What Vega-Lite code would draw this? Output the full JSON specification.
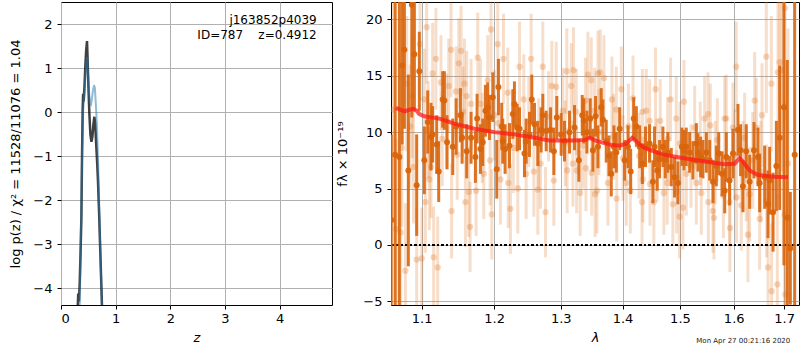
{
  "$schema": "https://vega.github.io/schema/vega-lite/v6.json",
  "padding": {"left": 9, "top": 1, "right": 0, "bottom": 0},
  "spacing": 3,
  "title": {"text": "Mon Apr 27 00:21:16 2020", "orient": "bottom", "anchor": "end", "fontSize": 7, "fontWeight": "normal", "font": "DejaVu Sans", "color": "#222222", "offset": -8, "dx": -10},
  "config": {
    "font": "DejaVu Sans",
    "view": {"stroke": "black", "strokeWidth": 1},
    "axis": {"domain": false, "grid": true, "gridColor": "#b0b0b0", "gridWidth": 1, "gridOpacity": 1, "tickColor": "black", "tickSize": 4, "tickWidth": 1, "labelFont": "DejaVu Sans", "labelFontSize": 13, "labelColor": "black", "labelOverlap": false, "titleFont": "DejaVu Sans", "titleFontSize": 13, "titleFontWeight": "normal", "titleColor": "black"},
    "axisX": {"labelPadding": 3, "titlePadding": 6},
    "axisY": {"labelPadding": 5}
  },
  "datasets": {
    "pz_dark": [
      {"z":0.29,"lp":-5.0},{"z":0.305,"lp":-4.5},{"z":0.315,"lp":-4.12},{"z":0.328,"lp":-4.3},{"z":0.342,"lp":-3.9},{"z":0.358,"lp":-3.2},{"z":0.373,"lp":-2.4},{"z":0.385,"lp":-1.0},{"z":0.397,"lp":0.1},{"z":0.405,"lp":0.42},{"z":0.415,"lp":0.25},{"z":0.43,"lp":0.6},{"z":0.445,"lp":1.05},{"z":0.46,"lp":1.4},{"z":0.476,"lp":1.62},{"z":0.485,"lp":1.3},{"z":0.494,"lp":0.9},{"z":0.507,"lp":0.4},{"z":0.52,"lp":-0.05},{"z":0.538,"lp":-0.5},{"z":0.557,"lp":-0.67},{"z":0.575,"lp":-0.55},{"z":0.595,"lp":-0.25},{"z":0.611,"lp":-0.1},{"z":0.625,"lp":-0.25},{"z":0.645,"lp":-0.75},{"z":0.662,"lp":-1.15},{"z":0.678,"lp":-1.6},{"z":0.70,"lp":-2.4},{"z":0.72,"lp":-3.2},{"z":0.74,"lp":-4.0},{"z":0.755,"lp":-4.6},{"z":0.77,"lp":-5.3}
    ],
    "pz_blue": [
      {"z":0.335,"lp":-5.0},{"z":0.345,"lp":-4.2},{"z":0.36,"lp":-3.0},{"z":0.375,"lp":-1.9},{"z":0.39,"lp":-0.7},{"z":0.405,"lp":0.05},{"z":0.42,"lp":0.3},{"z":0.434,"lp":0.55},{"z":0.45,"lp":0.9},{"z":0.465,"lp":1.15},{"z":0.478,"lp":1.26},{"z":0.49,"lp":1.0},{"z":0.505,"lp":0.6},{"z":0.52,"lp":0.35},{"z":0.535,"lp":0.2},{"z":0.55,"lp":0.18},{"z":0.565,"lp":0.3},{"z":0.585,"lp":0.5},{"z":0.605,"lp":0.62},{"z":0.62,"lp":0.55},{"z":0.635,"lp":0.25},{"z":0.65,"lp":-0.1},{"z":0.665,"lp":-0.6},{"z":0.68,"lp":-1.15},{"z":0.70,"lp":-2.2},{"z":0.72,"lp":-3.15},{"z":0.74,"lp":-4.0},{"z":0.755,"lp":-4.6},{"z":0.77,"lp":-5.3}
    ],
    "labels": [
      {"z":4.68,"lp":2.098,"t":"j163852p4039"},
      {"z":4.68,"lp":1.75,"t":"ID=787\u00a0\u00a0\u00a0\u00a0z=0.4912"}
    ],
    "spec_bin": [
      {"lam":1.0605,"f":2.2,"e":7.6},{"lam":1.0655,"f":8,"e":14},{"lam":1.0709,"f":7.8,"e":14},{"lam":1.0745,"f":15.9,"e":7},{"lam":1.0774,"f":17.3,"e":7},{"lam":1.0825,"f":6.6,"e":8.5},{"lam":1.087,"f":21.3,"e":10},{"lam":1.0904,"f":16.9,"e":5},{"lam":1.0934,"f":5.3,"e":4.5},{"lam":1.0969,"f":15.4,"e":3.5},{"lam":1.1035,"f":7.5,"e":3},{"lam":1.108,"f":10.9,"e":2.8},{"lam":1.1124,"f":9.6,"e":3},{"lam":1.1146,"f":9.8,"e":2.5},{"lam":1.12,"f":8.9,"e":2.6},{"lam":1.1227,"f":6.5,"e":2.7},{"lam":1.1281,"f":12.9,"e":2.5},{"lam":1.1304,"f":12.8,"e":2.6},{"lam":1.134,"f":9.1,"e":2.4},{"lam":1.1418,"f":8.7,"e":2.5},{"lam":1.1465,"f":10.5,"e":2.5},{"lam":1.1524,"f":11.5,"e":2.4},{"lam":1.1547,"f":9.5,"e":2.3},{"lam":1.1611,"f":8.3,"e":2.4},{"lam":1.1672,"f":9.5,"e":2.3},
      {"lam":1.1733,"f":7.8,"e":2.3},{"lam":1.1757,"f":11.2,"e":2.2},{"lam":1.1804,"f":8.5,"e":2.2},{"lam":1.1837,"f":9.1,"e":2.1},{"lam":1.1875,"f":11.9,"e":2.3},{"lam":1.1908,"f":12.2,"e":2.2},{"lam":1.1932,"f":11.3,"e":2.0},{"lam":1.198,"f":13.1,"e":2.2},{"lam":1.2038,"f":6.7,"e":2.6},{"lam":1.2062,"f":14.0,"e":2.5},{"lam":1.211,"f":10.5,"e":2.1},{"lam":1.2125,"f":9.2,"e":2.0},{"lam":1.2159,"f":8.5,"e":2.2},{"lam":1.2223,"f":8.8,"e":2.0},{"lam":1.2272,"f":11.6,"e":2.2},{"lam":1.2296,"f":12.5,"e":2.0},{"lam":1.2336,"f":10.4,"e":2.1},{"lam":1.2371,"f":10.3,"e":1.9},{"lam":1.2445,"f":8.1,"e":2.1},{"lam":1.247,"f":9.2,"e":2.0},{"lam":1.252,"f":9.8,"e":2.0},{"lam":1.2555,"f":12.9,"e":2.2},{"lam":1.2596,"f":10.7,"e":1.9},{"lam":1.2646,"f":9.0,"e":2.0},{"lam":1.2697,"f":10.2,"e":2.0},{"lam":1.2722,"f":11.5,"e":1.9},{"lam":1.2774,"f":10.1,"e":1.8},{"lam":1.2841,"f":10.2,"e":2.0},{"lam":1.2892,"f":8.3,"e":2.1},{"lam":1.2938,"f":11.3,"e":1.9},
      {"lam":1.3006,"f":9.8,"e":1.9},{"lam":1.3058,"f":9.2,"e":1.8},{"lam":1.3137,"f":10.0,"e":1.9},{"lam":1.3216,"f":10.4,"e":2.0},{"lam":1.3285,"f":7.5,"e":1.9},{"lam":1.3339,"f":11.5,"e":1.8},{"lam":1.3365,"f":11.0,"e":2.0},{"lam":1.3414,"f":10.0,"e":1.9},{"lam":1.3468,"f":11.2,"e":1.8},{"lam":1.3511,"f":8.4,"e":1.9},{"lam":1.3554,"f":11.4,"e":1.8},{"lam":1.3593,"f":8.7,"e":1.9},{"lam":1.3647,"f":12.2,"e":1.7},{"lam":1.3675,"f":11.1,"e":1.8},{"lam":1.3729,"f":9.2,"e":1.9},{"lam":1.3774,"f":7.9,"e":1.8},{"lam":1.3812,"f":6.3,"e":2.0},{"lam":1.3857,"f":8.7,"e":1.9},{"lam":1.3896,"f":8.2,"e":1.8},{"lam":1.3952,"f":10.3,"e":1.9},{"lam":1.4036,"f":7.5,"e":1.8},{"lam":1.4093,"f":8.7,"e":1.9},{"lam":1.4138,"f":6.5,"e":2.0},{"lam":1.4189,"f":11.2,"e":1.9},{"lam":1.4235,"f":10.5,"e":1.8},{"lam":1.4292,"f":8.7,"e":1.9},{"lam":1.4338,"f":7.2,"e":1.8},
      {"lam":1.4392,"f":8.7,"e":1.8},{"lam":1.4462,"f":9.0,"e":1.7},{"lam":1.452,"f":5.6,"e":1.9},{"lam":1.4549,"f":8.7,"e":1.8},{"lam":1.4596,"f":6.6,"e":1.8},{"lam":1.4637,"f":7.6,"e":1.7},{"lam":1.4696,"f":8.7,"e":1.8},{"lam":1.4737,"f":7.6,"e":1.7},{"lam":1.4784,"f":8.2,"e":1.8},{"lam":1.4844,"f":6.9,"e":1.7},{"lam":1.4903,"f":6.0,"e":1.8},{"lam":1.4963,"f":5.5,"e":1.9},{"lam":1.5035,"f":8.7,"e":1.7},{"lam":1.5072,"f":8.4,"e":1.8},{"lam":1.5114,"f":8.7,"e":1.7},{"lam":1.5175,"f":8.2,"e":1.8},{"lam":1.5236,"f":7.5,"e":1.7},{"lam":1.5298,"f":9.0,"e":1.8},{"lam":1.5328,"f":8.2,"e":1.7},{"lam":1.5377,"f":7.8,"e":1.8},{"lam":1.542,"f":7.6,"e":1.7},{"lam":1.5483,"f":8.2,"e":1.8},{"lam":1.5545,"f":7.5,"e":1.8},{"lam":1.5607,"f":5.6,"e":1.9},{"lam":1.567,"f":7.0,"e":1.8},{"lam":1.5714,"f":8.1,"e":1.9},{"lam":1.5777,"f":6.3,"e":2.0},{"lam":1.5828,"f":4.8,"e":2.0},
      {"lam":1.5858,"f":7.8,"e":2.2},{"lam":1.5921,"f":5.7,"e":2.2},{"lam":1.5985,"f":8.1,"e":2.2},{"lam":1.6082,"f":10.2,"e":2.3},{"lam":1.6133,"f":8.4,"e":2.3},{"lam":1.6178,"f":5.2,"e":2.3},{"lam":1.6243,"f":8.3,"e":2.4},{"lam":1.6309,"f":5.6,"e":2.4},{"lam":1.6394,"f":8.4,"e":2.5},{"lam":1.6473,"f":7.8,"e":2.6},{"lam":1.6506,"f":5.5,"e":2.6},{"lam":1.6606,"f":6.0,"e":2.8},{"lam":1.6673,"f":3.6,"e":3.0},{"lam":1.6706,"f":5.7,"e":3.0},{"lam":1.6774,"f":2.9,"e":3.5},{"lam":1.6841,"f":7.0,"e":4.0},{"lam":1.6908,"f":9.5,"e":6.4},{"lam":1.6995,"f":12.2,"e":14},{"lam":1.7064,"f":2.4,"e":14},{"lam":1.7126,"f":-0.3,"e":5},{"lam":1.7215,"f":8,"e":16}
    ],
    "spec_raw": [
      {"lam":1.063,"f":12.0,"e":10},{"lam":1.0665,"f":1.4,"e":8},{"lam":1.0726,"f":1.1,"e":7},{"lam":1.0741,"f":8.6,"e":7},{"lam":1.0787,"f":-2.3,"e":6},{"lam":1.0804,"f":14.3,"e":6},{"lam":1.0847,"f":10.5,"e":5.5},{"lam":1.0875,"f":13.2,"e":5.5},{"lam":1.0891,"f":6.9,"e":5},{"lam":1.0934,"f":-1.3,"e":4.5},{"lam":1.0978,"f":17.8,"e":5},{"lam":1.1001,"f":-1.2,"e":4.5},{"lam":1.1035,"f":12.9,"e":4.5},{"lam":1.1049,"f":3.8,"e":4.5},{"lam":1.1066,"f":19.3,"e":5},{"lam":1.1085,"f":10.2,"e":4.3},{"lam":1.1102,"f":5.8,"e":4.5},{"lam":1.1124,"f":6.9,"e":4.5},{"lam":1.1146,"f":15.2,"e":4.5},{"lam":1.1159,"f":-1.1,"e":4.5},{"lam":1.119,"f":16.5,"e":4.5},{"lam":1.1213,"f":-2.0,"e":4.5},{"lam":1.1258,"f":14.4,"e":4.2},{"lam":1.1275,"f":9.4,"e":4.2},{"lam":1.1335,"f":11.0,"e":4.2},{"lam":1.1363,"f":14.1,"e":4.2},{"lam":1.1395,"f":17.3,"e":4.2},{"lam":1.1402,"f":3.0,"e":4.2},{"lam":1.1464,"f":13.6,"e":4},{"lam":1.148,"f":8.0,"e":4},{"lam":1.1501,"f":16.1,"e":4},{"lam":1.1533,"f":17.2,"e":4},{"lam":1.156,"f":11.8,"e":4},{"lam":1.1579,"f":14.3,"e":4},{"lam":1.1593,"f":3.8,"e":4},{"lam":1.1611,"f":13.2,"e":4},{"lam":1.164,"f":4.7,"e":4},{"lam":1.1658,"f":1.6,"e":4},{"lam":1.1672,"f":12.5,"e":4},
      {"lam":1.1743,"f":4.8,"e":4},{"lam":1.1766,"f":16.6,"e":4},{"lam":1.1804,"f":12.5,"e":4},{"lam":1.183,"f":9.5,"e":4},{"lam":1.1852,"f":6.3,"e":4},{"lam":1.1908,"f":14.6,"e":4},{"lam":1.1942,"f":7.5,"e":4},{"lam":1.1955,"f":19.1,"e":4},{"lam":1.1966,"f":2.7,"e":4},{"lam":1.2004,"f":11.5,"e":4},{"lam":1.2052,"f":17.8,"e":4},{"lam":1.206,"f":10.8,"e":4},{"lam":1.2091,"f":5.8,"e":4},{"lam":1.2135,"f":16.5,"e":4},{"lam":1.2198,"f":13.5,"e":4},{"lam":1.2205,"f":5.5,"e":4},{"lam":1.2237,"f":3.2,"e":4},{"lam":1.228,"f":8.6,"e":4},{"lam":1.2346,"f":5.0,"e":4},{"lam":1.2371,"f":15.8,"e":4},{"lam":1.2435,"f":12.9,"e":4},{"lam":1.247,"f":6.3,"e":4},{"lam":1.251,"f":10.9,"e":4},{"lam":1.2545,"f":16.5,"e":4},{"lam":1.2586,"f":6.5,"e":4},{"lam":1.2646,"f":4.9,"e":4},{"lam":1.266,"f":9.0,"e":4},{"lam":1.2687,"f":7.2,"e":4},{"lam":1.2722,"f":15.8,"e":4},{"lam":1.2763,"f":2.9,"e":4},{"lam":1.281,"f":11.4,"e":4},{"lam":1.286,"f":14.1,"e":4},{"lam":1.2892,"f":5.7,"e":4},{"lam":1.2928,"f":14.0,"e":4},
      {"lam":1.3032,"f":11.9,"e":3.8},{"lam":1.307,"f":9.0,"e":3.8},{"lam":1.3094,"f":15.4,"e":3.8},{"lam":1.31,"f":6.6,"e":3.8},{"lam":1.3163,"f":14.1,"e":3.8},{"lam":1.319,"f":7.2,"e":3.8},{"lam":1.32,"f":15.5,"e":3.8},{"lam":1.3243,"f":11.8,"e":3.8},{"lam":1.325,"f":6.6,"e":3.8},{"lam":1.3306,"f":4.6,"e":3.8},{"lam":1.335,"f":8.8,"e":3.8},{"lam":1.3392,"f":12.8,"e":3.8},{"lam":1.3398,"f":6.8,"e":3.8},{"lam":1.343,"f":15.1,"e":3.8},{"lam":1.3484,"f":14.6,"e":3.8},{"lam":1.349,"f":6.4,"e":3.8},{"lam":1.3538,"f":11.9,"e":3.8},{"lam":1.3545,"f":4.5,"e":3.8},{"lam":1.3576,"f":4.8,"e":3.8},{"lam":1.3593,"f":15.2,"e":3.8},{"lam":1.361,"f":10.0,"e":3.8},{"lam":1.3631,"f":15.3,"e":3.8},{"lam":1.3691,"f":14.8,"e":3.8},{"lam":1.3757,"f":5.5,"e":3.8},{"lam":1.3823,"f":12.9,"e":3.8},{"lam":1.385,"f":9.6,"e":3.8},{"lam":1.3896,"f":12.0,"e":3.8},{"lam":1.3903,"f":4.1,"e":3.8},{"lam":1.398,"f":13.8,"e":3.8},{"lam":1.4008,"f":7.7,"e":3.8},{"lam":1.4064,"f":5.5,"e":3.8},{"lam":1.41,"f":10.5,"e":3.8},{"lam":1.4132,"f":4.8,"e":3.8},{"lam":1.4178,"f":13.0,"e":3.8},{"lam":1.428,"f":7.9,"e":3.8},{"lam":1.4332,"f":3.8,"e":3.8},{"lam":1.4338,"f":11.8,"e":3.8},{"lam":1.4345,"f":5.8,"e":3.8},
      {"lam":1.4404,"f":11.9,"e":3.7},{"lam":1.4462,"f":11.0,"e":3.7},{"lam":1.447,"f":5.4,"e":3.7},{"lam":1.4537,"f":3.8,"e":3.7},{"lam":1.4566,"f":13.8,"e":3.7},{"lam":1.459,"f":7.5,"e":3.7},{"lam":1.4649,"f":11.0,"e":3.7},{"lam":1.4713,"f":4.6,"e":3.7},{"lam":1.4772,"f":5.5,"e":3.7},{"lam":1.478,"f":9.4,"e":3.7},{"lam":1.4832,"f":12.9,"e":3.7},{"lam":1.4873,"f":3.6,"e":3.7},{"lam":1.4933,"f":11.2,"e":3.7},{"lam":1.494,"f":4.7,"e":3.7},{"lam":1.4993,"f":2.5,"e":3.7},{"lam":1.5,"f":9.0,"e":3.7},{"lam":1.5053,"f":3.3,"e":3.7},{"lam":1.5072,"f":12.7,"e":3.7},{"lam":1.5114,"f":6.3,"e":3.7},{"lam":1.52,"f":7.0,"e":3.7},{"lam":1.5267,"f":10.4,"e":3.7},{"lam":1.5298,"f":5.5,"e":3.7},{"lam":1.537,"f":9.0,"e":3.7},{"lam":1.5389,"f":4.6,"e":3.7},{"lam":1.5451,"f":11.2,"e":3.7},{"lam":1.5514,"f":11.6,"e":3.7},{"lam":1.552,"f":3.8,"e":3.7},{"lam":1.5557,"f":10.6,"e":3.7},{"lam":1.5607,"f":3.0,"e":3.7},{"lam":1.5626,"f":2.4,"e":3.7},{"lam":1.565,"f":7.3,"e":3.7},{"lam":1.5689,"f":9.3,"e":3.7},{"lam":1.5802,"f":4.4,"e":3.8},{"lam":1.5828,"f":11.2,"e":3.8},
      {"lam":1.5858,"f":11.2,"e":3.9},{"lam":1.5921,"f":3.8,"e":3.9},{"lam":1.5928,"f":1.5,"e":3.9},{"lam":1.5985,"f":10.4,"e":4},{"lam":1.602,"f":8.0,"e":4},{"lam":1.6049,"f":15.8,"e":4},{"lam":1.6055,"f":4.2,"e":4},{"lam":1.6146,"f":3.5,"e":4},{"lam":1.618,"f":7.0,"e":4},{"lam":1.6211,"f":9.5,"e":4},{"lam":1.6243,"f":6.3,"e":4.2},{"lam":1.6276,"f":0.9,"e":4.2},{"lam":1.6309,"f":4.5,"e":4.2},{"lam":1.637,"f":7.5,"e":4.3},{"lam":1.6407,"f":12.8,"e":4.3},{"lam":1.644,"f":10.4,"e":4.4},{"lam":1.6506,"f":2.3,"e":4.5},{"lam":1.653,"f":6.5,"e":4.5},{"lam":1.6553,"f":11.5,"e":4.6},{"lam":1.6639,"f":16.7,"e":5},{"lam":1.6645,"f":3.9,"e":5},{"lam":1.6673,"f":-2.0,"e":6},{"lam":1.674,"f":14.3,"e":6},{"lam":1.6745,"f":-4.1,"e":6},{"lam":1.686,"f":-3.5,"e":8},{"lam":1.6874,"f":15.3,"e":8},{"lam":1.6908,"f":16.2,"e":8},{"lam":1.6955,"f":15.5,"e":9},{"lam":1.701,"f":2.7,"e":10},{"lam":1.7015,"f":21.0,"e":10},{"lam":1.7023,"f":-4.4,"e":10},{"lam":1.7077,"f":7.2,"e":12}
    ],
    "model": [
      {"lam":1.0666,"f":12.15},{"lam":1.0774,"f":11.85},{"lam":1.0882,"f":12.06},{"lam":1.0934,"f":11.9},{"lam":1.0969,"f":11.6},{"lam":1.1035,"f":11.4},{"lam":1.1236,"f":11.2},{"lam":1.1441,"f":10.75},{"lam":1.1719,"f":10.3},{"lam":1.2004,"f":10.0},{"lam":1.2296,"f":9.8},{"lam":1.2596,"f":9.5},{"lam":1.2825,"f":9.25},{"lam":1.3188,"f":9.25},{"lam":1.338,"f":9.3},{"lam":1.3457,"f":9.5},{"lam":1.3554,"f":9.25},{"lam":1.3785,"f":8.9},{"lam":1.3952,"f":8.8},{"lam":1.4064,"f":9.0},{"lam":1.4166,"f":9.5},{"lam":1.4292,"f":8.9},{"lam":1.4378,"f":8.6},{"lam":1.4666,"f":8.05},{"lam":1.4993,"f":7.75},{"lam":1.5451,"f":7.4},{"lam":1.5828,"f":7.15},{"lam":1.6017,"f":7.2},{"lam":1.6114,"f":7.7},{"lam":1.6178,"f":7.4},{"lam":1.6309,"f":6.6},{"lam":1.6473,"f":6.2},{"lam":1.6807,"f":6.05},{"lam":1.7077,"f":6.0}
    ]
  },
  "hconcat": [
    {
      "width": 271,
      "height": 303,
      "layer": [
        {
          "data": {"name": "pz_dark"},
          "mark": {"type": "line", "color": "black", "opacity": 0.75, "strokeWidth": 2.5, "clip": true},
          "encoding": {
            "x": {"field": "z", "type": "quantitative", "scale": {"domain": [0, 4.96], "nice": false, "zero": false}, "axis": {"values": [0, 1, 2, 3, 4], "titleFontStyle": "italic"}, "title": "z"},
            "y": {"field": "lp", "type": "quantitative", "scale": {"domain": [-4.38, 2.51], "nice": false, "zero": false}, "axis": {"values": [-4, -3, -2, -1, 0, 1, 2], "titlePadding": 10}, "title": "log p(z) / χ² = 11528/11076 = 1.04"}
          }
        },
        {
          "data": {"name": "pz_blue"},
          "mark": {"type": "line", "color": "#1f77b4", "opacity": 0.5, "strokeWidth": 2, "clip": true},
          "encoding": {
            "x": {"field": "z", "type": "quantitative", "title": "z"},
            "y": {"field": "lp", "type": "quantitative", "title": "log p(z) / χ² = 11528/11076 = 1.04"}
          }
        },
        {
          "data": {"name": "labels"},
          "mark": {"type": "text", "align": "right", "baseline": "middle", "fontSize": 12, "font": "DejaVu Sans", "color": "black"},
          "encoding": {
            "x": {"field": "z", "type": "quantitative", "title": "z"},
            "y": {"field": "lp", "type": "quantitative", "title": "log p(z) / χ² = 11528/11076 = 1.04"},
            "text": {"field": "t"}
          }
        }
      ]
    },
    {
      "width": 408,
      "height": 303,
      "layer": [
        {
          "data": {"name": "spec_raw"},
          "mark": {"type": "errorbar", "thickness": 3, "color": "#e07a2a", "opacity": 0.25, "clip": true},
          "encoding": {
            "x": {"field": "lam", "type": "quantitative", "scale": {"type": "log", "domain": [1.0602, 1.7305], "nice": false}, "axis": {"values": [1.1, 1.2, 1.3, 1.4, 1.5, 1.6, 1.7], "format": ".1f", "titleFontStyle": "italic"}, "title": "λ"},
            "y": {"field": "f", "type": "quantitative", "scale": {"domain": [-5.33, 21.54], "nice": false, "zero": false}, "axis": {"values": [-5, 0, 5, 10, 15, 20], "titlePadding": 13}, "title": "fλ × 10⁻¹⁹"},
            "yError": {"field": "e"}
          }
        },
        {
          "data": {"name": "spec_raw"},
          "mark": {"type": "circle", "size": 40, "color": "#e07a2a", "opacity": 0.3, "clip": true},
          "encoding": {
            "x": {"field": "lam", "type": "quantitative", "title": "λ"},
            "y": {"field": "f", "type": "quantitative", "title": "fλ × 10⁻¹⁹"}
          }
        },
        {
          "data": {"name": "model"},
          "mark": {"type": "rule", "color": "black", "strokeWidth": 1.5, "strokeDash": [2, 2.5]},
          "encoding": {"y": {"datum": 0, "title": "fλ × 10⁻¹⁹"}}
        },
        {
          "data": {"name": "spec_bin"},
          "mark": {"type": "errorbar", "thickness": 3, "color": "#d9650c", "opacity": 0.9, "clip": true},
          "encoding": {
            "x": {"field": "lam", "type": "quantitative", "title": "λ"},
            "y": {"field": "f", "type": "quantitative", "title": "fλ × 10⁻¹⁹"},
            "yError": {"field": "e"}
          }
        },
        {
          "data": {"name": "spec_bin"},
          "mark": {"type": "circle", "size": 36, "color": "#d9650c", "opacity": 0.95, "clip": true},
          "encoding": {
            "x": {"field": "lam", "type": "quantitative", "title": "λ"},
            "y": {"field": "f", "type": "quantitative", "title": "fλ × 10⁻¹⁹"}
          }
        },
        {
          "data": {"name": "model"},
          "mark": {"type": "line", "color": "#ff1a1a", "opacity": 0.75, "strokeWidth": 4, "clip": true},
          "encoding": {
            "x": {"field": "lam", "type": "quantitative", "title": "λ"},
            "y": {"field": "f", "type": "quantitative", "title": "fλ × 10⁻¹⁹"}
          }
        }
      ]
    }
  ]
}
